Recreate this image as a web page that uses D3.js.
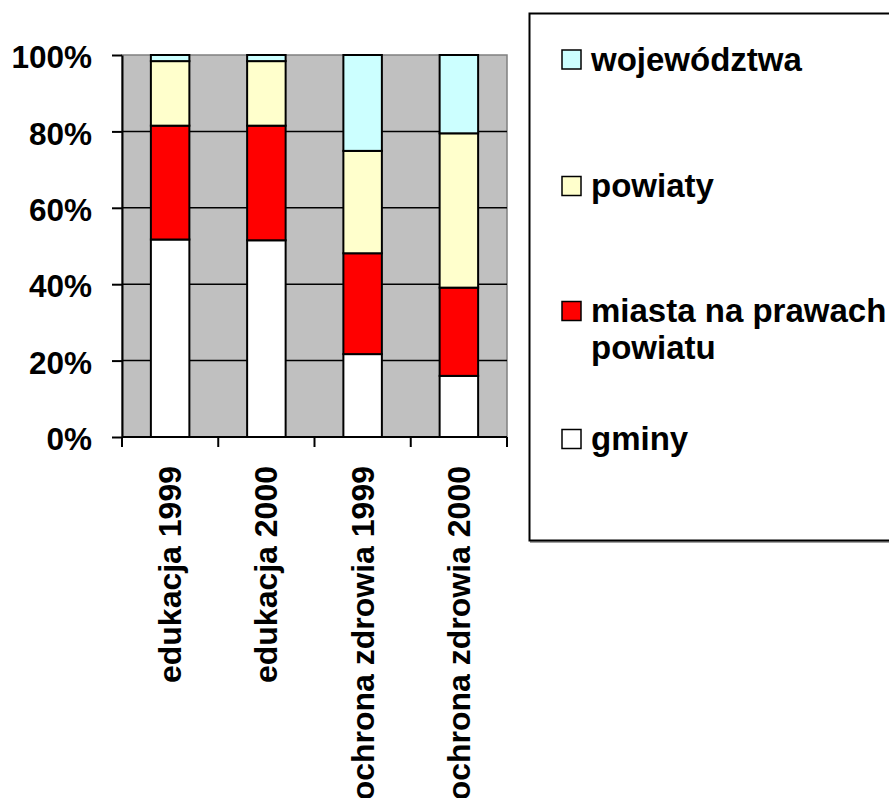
<!DOCTYPE html>
<html>
<head>
<meta charset="utf-8">
<script src="https://cdn.jsdelivr.net/npm/d3@7"></script>
<style>
  body { margin: 0; background: #fff; }
  svg { display: block; font-family: Arial, "Liberation Sans", sans-serif; font-weight: bold; }
</style>
</head>
<body>
<div id="chart"></div>
<script>
// categories and series (shares of spending, 0..1)
const categories = ["edukacja 1999", "edukacja 2000", "ochrona zdrowia 1999", "ochrona zdrowia 2000"];
const gminy = [0.517, 0.515, 0.217, 0.160];
const miasta = [0.298, 0.300, 0.264, 0.231];
const powiaty = [0.169, 0.169, 0.268, 0.404];
const wojewodztwa = [0.016, 0.016, 0.251, 0.205];
const seriesNames = ["gminy", "miasta na prawach powiatu", "powiaty", "województwa"];
const seriesColors = ["#FFFFFF", "#FF0000", "#FFFFCC", "#CCFFFF"];
const yTicks = [0, 0.2, 0.4, 0.6, 0.8, 1];

const width = 889, height = 798;
const plot = { left: 122, right: 507, top: 55, bottom: 437 };

const rows = categories.map((c, i) => ({
  cat: c,
  [seriesNames[0]]: gminy[i],
  [seriesNames[1]]: miasta[i],
  [seriesNames[2]]: powiaty[i],
  [seriesNames[3]]: wojewodztwa[i]
}));
const stacked = d3.stack().keys(seriesNames)(rows);

const x = d3.scaleBand(categories, [plot.left, plot.right]).paddingInner(0.6).paddingOuter(0.3);
const y = d3.scaleLinear([0, 1], [plot.bottom, plot.top]);
const color = d3.scaleOrdinal(seriesNames, seriesColors);

const svg = d3.select("#chart").append("svg")
  .attr("width", width).attr("height", height);

// plot background
svg.append("rect")
  .attr("x", plot.left).attr("y", plot.top)
  .attr("width", plot.right - plot.left).attr("height", plot.bottom - plot.top)
  .attr("fill", "#C0C0C0")
  .attr("stroke", "#808080").attr("stroke-width", 1.5);

// gridlines
svg.append("g").selectAll("line")
  .data(yTicks.filter(t => t > 0 && t < 1))
  .join("line")
  .attr("x1", plot.left).attr("x2", plot.right)
  .attr("y1", d => y(d)).attr("y2", d => y(d))
  .attr("stroke", "#000").attr("stroke-width", 1.5);

// bars
svg.append("g").selectAll("g")
  .data(stacked)
  .join("g")
  .attr("fill", d => color(d.key))
  .selectAll("rect")
  .data(d => d)
  .join("rect")
  .attr("x", d => x(d.data.cat))
  .attr("width", x.bandwidth())
  .attr("y", d => y(d[1]))
  .attr("height", d => y(d[0]) - y(d[1]))
  .attr("stroke", "#000").attr("stroke-width", 2);

// y axis
const yAxis = svg.append("g")
  .attr("transform", `translate(${plot.left},0)`)
  .call(d3.axisLeft(y).tickValues(yTicks).tickFormat(d3.format(".0%")).tickSize(10).tickSizeOuter(0));
yAxis.select(".domain").attr("stroke", "#000").attr("stroke-width", 2);
yAxis.selectAll(".tick line").attr("stroke", "#000").attr("stroke-width", 2);
yAxis.selectAll(".tick text")
  .attr("x", -30).attr("dy", "0.4em")
  .attr("font-size", 31.5).attr("font-weight", "bold").attr("fill", "#000")
  .attr("font-family", "Arial, 'Liberation Sans', sans-serif");

// x axis: ticks at category boundaries
const bounds = d3.range(categories.length + 1).map(i => plot.left + i * (plot.right - plot.left) / categories.length);
svg.append("line")
  .attr("x1", plot.left).attr("x2", plot.right)
  .attr("y1", plot.bottom).attr("y2", plot.bottom)
  .attr("stroke", "#000").attr("stroke-width", 2);
svg.append("g").selectAll("line")
  .data(bounds)
  .join("line")
  .attr("x1", d => d).attr("x2", d => d)
  .attr("y1", plot.bottom).attr("y2", plot.bottom + 10)
  .attr("stroke", "#000").attr("stroke-width", 2);

// x labels rotated
svg.append("g").selectAll("text")
  .data(categories)
  .join("text")
  .attr("transform", d => `translate(${x(d) + x.bandwidth() / 2 + 11},466) rotate(-90)`)
  .attr("text-anchor", "end")
  .attr("font-size", 32)
  .attr("fill", "#000")
  .text(d => d);

// legend
const legend = svg.append("g");
legend.append("rect")
  .attr("x", 531).attr("y", 15).attr("width", 400).attr("height", 527)
  .attr("fill", "none").attr("stroke", "#A0A0A0").attr("stroke-width", 2);
legend.append("rect")
  .attr("x", 529.5).attr("y", 13.5).attr("width", 400).attr("height", 527)
  .attr("fill", "#fff").attr("stroke", "#000").attr("stroke-width", 2);

const legendItems = [
  { key: seriesNames[3], lines: ["województwa"], cy: 59.5 },
  { key: seriesNames[2], lines: ["powiaty"], cy: 186 },
  { key: seriesNames[1], lines: ["miasta na prawach", "powiatu"], cy: 311 },
  { key: seriesNames[0], lines: ["gminy"], cy: 439 }
];
const li = legend.selectAll("g.item")
  .data(legendItems)
  .join("g")
  .attr("class", "item")
  .attr("transform", d => `translate(0,${d.cy})`);
li.append("rect")
  .attr("x", 562).attr("y", -9.5).attr("width", 19).attr("height", 19)
  .attr("fill", d => color(d.key))
  .attr("stroke", "#000").attr("stroke-width", 1.5);
li.append("text")
  .attr("x", 591)
  .attr("y", 11)
  .attr("font-size", 33)
  .attr("fill", "#000")
  .selectAll("tspan")
  .data(d => d.lines)
  .join("tspan")
  .attr("x", 591)
  .attr("dy", (d, i) => i === 0 ? 0 : 37)
  .text(d => d);
</script>
</body>
</html>
